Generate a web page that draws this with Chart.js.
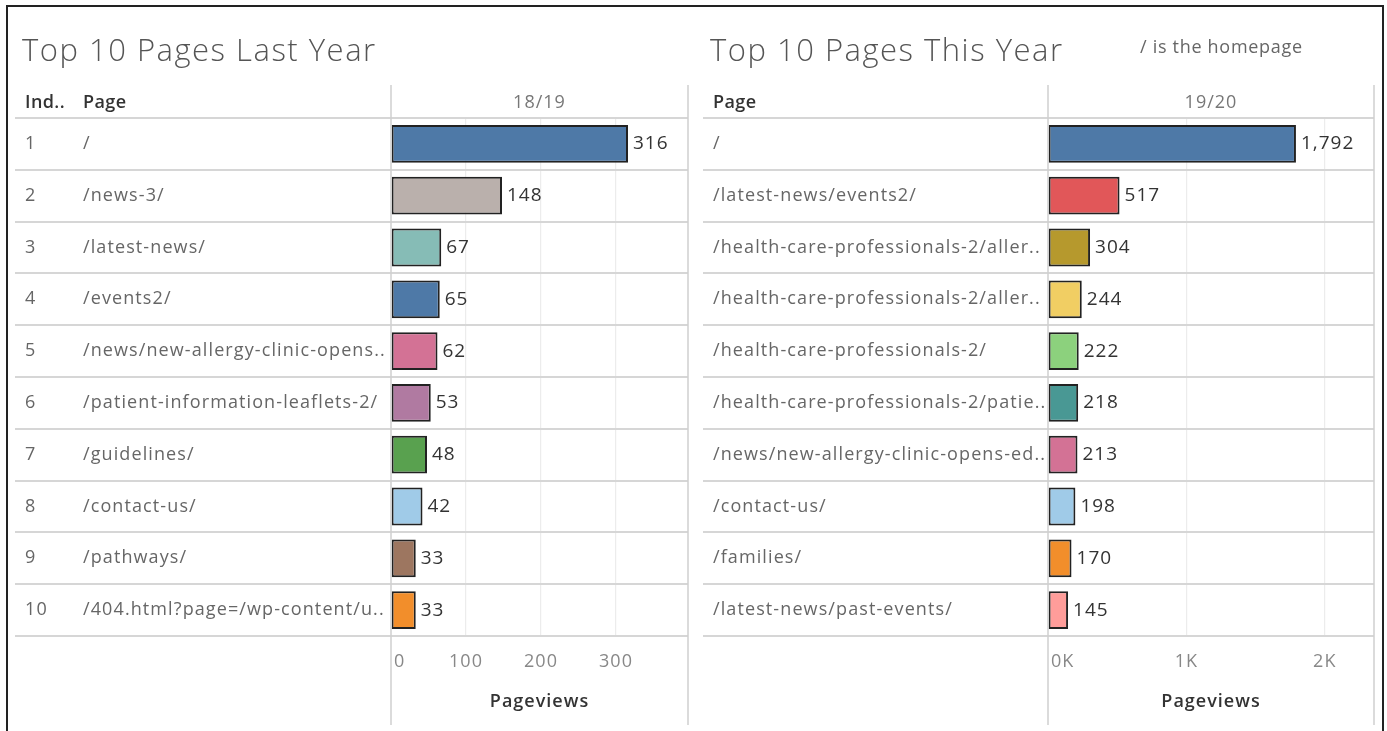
<!DOCTYPE html>
<html>
<head>
<meta charset="utf-8">
<script src="https://cdn.jsdelivr.net/npm/chart.js@4"></script>
<style>
  html, body { margin: 0; padding: 0; background: #fff; }
  body { width: 1387px; height: 731px; position: relative; overflow: hidden; }
  #frame { position: absolute; left: 6px; top: 5px; width: 1378px; height: 740px;
           border: 2px solid #222; box-sizing: border-box; }
  canvas { position: absolute; }
  #lastYear { left: 8px; top: 6px; }
  #thisYear { left: 690px; top: 6px; }
</style>
</head>
<body>
<div id="frame"></div>
<canvas id="lastYear" width="682" height="725" style="width:682px;height:725px"></canvas>
<canvas id="thisYear" width="690" height="725" style="width:690px;height:725px"></canvas>
<script>
// Last year (18/19)
const lastPages = ['/', '/news-3/', '/latest-news/', '/events2/', '/news/new-allergy-clinic-opens..',
    '/patient-information-leaflets-2/', '/guidelines/', '/contact-us/', '/pathways/', '/404.html?page=/wp-content/u..'];
const lastViews = [316, 148, 67, 65, 62, 53, 48, 42, 33, 33];
const lastColors = ['#4e79a7', '#bab0ac', '#86bcb6', '#4e79a7', '#d37295',
    '#b07aa1', '#59a14f', '#a0cbe8', '#9d7660', '#f28e2b'];
const lastTicks = [0, 100, 200, 300];

// This year (19/20)
const thisPages = ['/', '/latest-news/events2/', '/health-care-professionals-2/aller..', '/health-care-professionals-2/aller..',
    '/health-care-professionals-2/', '/health-care-professionals-2/patie..', '/news/new-allergy-clinic-opens-ed..',
    '/contact-us/', '/families/', '/latest-news/past-events/'];
const thisViews = [1792, 517, 304, 244, 222, 218, 213, 198, 170, 145];
const thisColors = ['#4e79a7', '#e15759', '#b6992d', '#f1ce63', '#8cd17d',
    '#499894', '#d37295', '#a0cbe8', '#f28e2b', '#ff9d9a'];
const thisTicks = [0, 1000, 2000];

const FONT = '"Open Sans", "Noto Sans", sans-serif';

// draws the table part: titles, column headers, row labels, value labels, tick labels, divider lines
const tablePlugin = {
    id: 'tablePlugin',
    beforeDraw(chart) {
        chart.ctx.letterSpacing = '1px';
    },
    afterDraw(chart) {
        const o = chart.options.plugins.tablePlugin;
        const c = chart.ctx;
        const area = chart.chartArea;
        const x = chart.scales.x;
        const y = chart.scales.y;
        c.save();

        // title
        c.fillStyle = '#555';
        c.font = '300 31px ' + FONT;
        c.letterSpacing = '1.5px';
        c.textBaseline = 'middle';
        c.textAlign = 'left';
        c.fillText(o.title, o.titleX, 46);
        if (o.note) {
            c.font = '18px ' + FONT;
            c.letterSpacing = '0.7px';
            c.fillStyle = '#666';
            c.fillText(o.note, o.noteX, 42);
        }

        // column headers
        c.font = '600 18px ' + FONT;
        c.letterSpacing = '0.4px';
        c.fillStyle = '#333';
        if (o.indexHeader) c.fillText(o.indexHeader, o.indexX, 97);
        c.fillText('Page', o.pageX, 97);
        c.font = '18px ' + FONT;
        c.letterSpacing = '1px';
        c.fillStyle = '#777';
        c.textAlign = 'center';
        c.fillText(o.period, (area.left + area.right) / 2, 97);

        // vertical lines (zero line and right edge)
        c.strokeStyle = '#cfcfcf';
        c.lineWidth = 1.5;
        c.beginPath();
        c.moveTo(area.left, 79); c.lineTo(area.left, 719);
        c.moveTo(area.right, 79); c.lineTo(area.right, 719);
        c.stroke();

        // row labels
        c.font = '18px ' + FONT;
        c.letterSpacing = '1.1px';
        c.fillStyle = '#666';
        c.textAlign = 'left';
        chart.data.labels.forEach((lab, i) => {
            const py = y.getPixelForTick(i);
            if (o.indexHeader) c.fillText(String(i + 1), o.indexX, py);
            c.fillText(lab, o.pageX, py);
        });

        // value labels
        c.fillStyle = '#333';
        c.font = '19px ' + FONT;
        c.letterSpacing = '1px';
        chart.getDatasetMeta(0).data.forEach((bar, i) => {
            const v = chart.data.datasets[0].data[i];
            c.fillText(v.toLocaleString('en-US'), bar.x + 5, bar.y);
        });

        // x tick labels (first one sits right of the zero line)
        c.fillStyle = '#888';
        c.font = '18px ' + FONT;
        x.ticks.forEach(t => {
            const v = t.value;
            const px = x.getPixelForValue(v);
            const txt = o.kilo ? (v / 1000) + 'K' : String(v);
            c.textAlign = v === 0 ? 'left' : 'center';
            c.fillText(txt, v === 0 ? px + 3 : px, area.bottom + 26);
        });
        c.restore();
    }
};

function makeChart(id, pages, views, colors, max, ticks, labelWidth, pad, plug) {
    return new Chart(document.getElementById(id), {
        type: 'bar',
        data: {
            labels: pages,
            datasets: [{
                data: views,
                backgroundColor: colors,
                borderColor: '#222',
                borderWidth: 2,
                borderSkipped: false,
                categoryPercentage: 1,
                barPercentage: 0.73
            }]
        },
        options: {
            indexAxis: 'y',
            responsive: false,
            animation: false,
            layout: { padding: pad },
            plugins: {
                legend: { display: false },
                tooltip: { enabled: false },
                tablePlugin: plug
            },
            scales: {
                x: {
                    min: 0,
                    max: max,
                    bounds: 'data',
                    border: { display: false },
                    grid: {
                        color: ctx => ctx.tick && ctx.tick.value === 0 ? 'rgba(0,0,0,0)' : '#ececec',
                        lineWidth: 1.2,
                        drawTicks: false
                    },
                    ticks: { display: false },
                    afterBuildTicks: s => { s.ticks = ticks.map(v => ({ value: v })); },
                    title: {
                        display: true,
                        text: 'Pageviews',
                        color: '#333',
                        font: { family: FONT, size: 18, weight: '600' },
                        padding: { top: 0, bottom: 18 }
                    },
                    afterFit: s => { s.height = 95; }
                },
                y: {
                    border: { display: false },
                    grid: {
                        offset: true,
                        color: '#d6d6d6',
                        lineWidth: 2,
                        drawTicks: true,
                        tickLength: labelWidth
                    },
                    ticks: { display: false },
                    afterFit: s => { s.width = labelWidth; }
                }
            }
        },
        plugins: [tablePlugin]
    });
}

// Last year chart
makeChart('lastYear', lastPages, lastViews, lastColors, 396, lastTicks,
    376, { left: 7, right: 2, top: 112, bottom: 0 }, {
    title: 'Top 10 Pages Last Year', titleX: 14,
    indexHeader: 'Ind..', indexX: 17, pageX: 75,
    period: '18/19', kilo: false
});

// This year chart
makeChart('thisYear', thisPages, thisViews, thisColors, 2356, thisTicks,
    345, { left: 13, right: 6, top: 112, bottom: 0 }, {
    title: 'Top 10 Pages This Year', titleX: 20,
    note: '/ is the homepage', noteX: 450,
    indexHeader: null, pageX: 23,
    period: '19/20', kilo: true
});
</script>
</body>
</html>
